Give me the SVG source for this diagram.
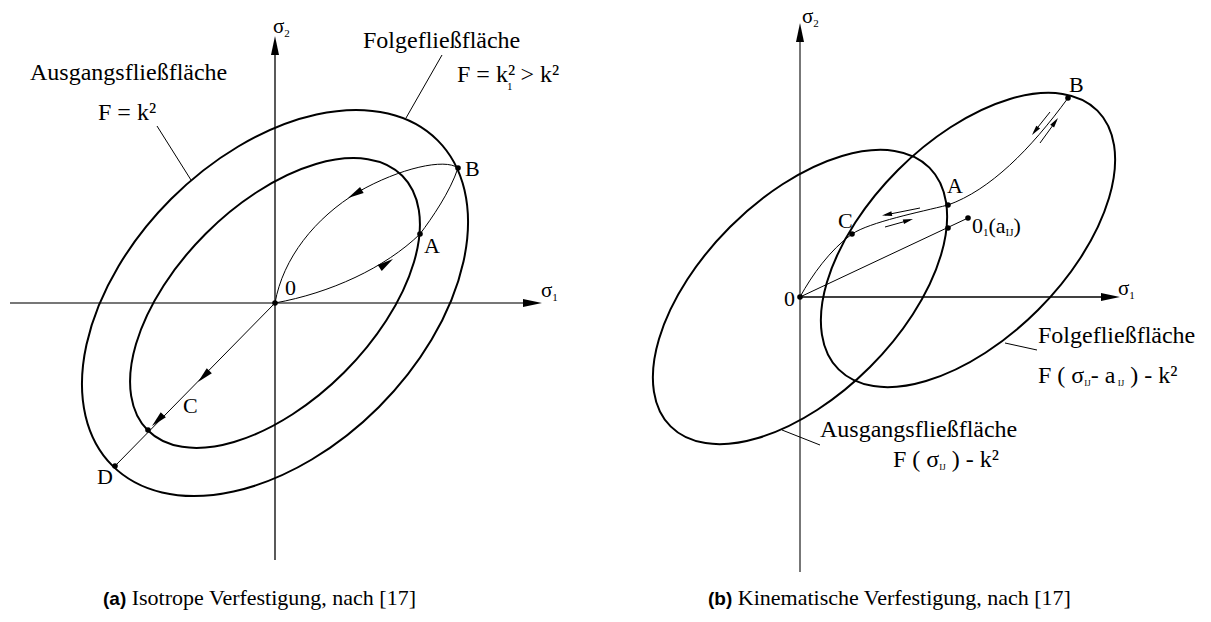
<svg xmlns="http://www.w3.org/2000/svg" width="1211" height="622" viewBox="0 0 1211 622">
<style>
.ell{fill:none;stroke:#000;stroke-width:2}
.pth{fill:none;stroke:#000;stroke-width:1}
.axk{stroke:#000;stroke-width:1.3;fill:none}
.axg{stroke:#777;stroke-width:2;fill:none}
.lbl{font-family:"Liberation Serif","Times New Roman",serif;font-size:24px;fill:#000}
.pt{font-family:"Liberation Serif","Times New Roman",serif;font-size:22px;fill:#000}
.sg{font-family:"Liberation Serif","Times New Roman",serif;font-size:21px;fill:#000}
.sub{font-size:11px}
.cap{font-family:"Liberation Serif","Times New Roman",serif;font-size:22px;fill:#000}
.capb{font-family:"Liberation Sans",Arial,sans-serif;font-size:19px;font-weight:bold}
.dot{fill:#000}
</style>
<defs>
<path id="axh" d="M0,0 L-19,-4 L-19,4 Z"/>
<path id="ah" d="M0,0 L-16,-3.6 L-16,3.6 Z"/>
<path id="sah" d="M0,0 L-10,-2.4 L-10,2.4 Z"/>
</defs>

<!-- ===== Left panel (a) ===== -->
<g id="axes-a">
  <line class="axg" x1="10" y1="303" x2="525" y2="303"/>
  <use href="#axh" transform="translate(542,303)"/>
  <line class="axk" x1="275" y1="560" x2="275" y2="52"/>
  <use href="#axh" transform="translate(275,36) rotate(-90)"/>
  <text class="sg" x="273" y="33">σ<tspan class="sub" dy="4">2</tspan></text>
  <text class="sg" x="541" y="297">σ<tspan class="sub" dy="4">1</tspan></text>
</g>
<g id="outer-a">
  <ellipse class="ell" cx="0" cy="0" rx="230" ry="147" transform="translate(275,303) rotate(-45)"/>
</g>
<g id="inner-a">
  <ellipse class="ell" cx="0" cy="0" rx="180" ry="98" transform="translate(275,303) rotate(-45)"/>
</g>
<g id="connectors-a">
  <path class="pth" d="M275,303 C330,293 385,268 420,234 C432,218 450,192 458,168"/>
  <path class="pth" d="M458,168 C445,158 400,168 358,192 C315,218 283,258 275,303"/>
  <line class="pth" x1="275" y1="303" x2="115" y2="466"/>
  <use href="#ah" transform="translate(393,259) rotate(-34)"/>
  <use href="#ah" transform="translate(348,198) rotate(150)"/>
  <use href="#ah" transform="translate(198,382) rotate(135)"/>
  <use href="#ah" transform="translate(152,426) rotate(135)"/>
  <line class="pth" x1="157" y1="126" x2="191" y2="180"/>
  <line class="pth" x1="442" y1="55" x2="406" y2="118"/>
</g>
<g id="pt-0a"><circle class="dot" cx="275" cy="303" r="2.8"/><text class="pt" x="285" y="295">0</text></g>
<g id="pt-Aa"><circle class="dot" cx="420" cy="234" r="2.8"/><text class="pt" x="424" y="253">A</text></g>
<g id="pt-Ba"><circle class="dot" cx="458" cy="168" r="2.8"/><text class="pt" x="465" y="176">B</text></g>
<g id="pt-Ca"><circle class="dot" cx="148" cy="430" r="2.8"/><text class="pt" x="183" y="413">C</text></g>
<g id="pt-Da"><circle class="dot" cx="115" cy="466" r="2.8"/><text class="pt" x="97" y="484">D</text></g>
<g id="label-ausgang-a">
  <text class="lbl" x="30" y="80">Ausgangsfließfläche</text>
  <text class="lbl" x="98" y="120">F = k²</text>
</g>
<g id="label-folge-a">
  <text class="lbl" x="363" y="48">Folgefließfläche</text>
  <text class="lbl" x="457" y="82">F = k²<tspan font-size="11" dx="-8" dy="8">1</tspan><tspan dx="2" dy="-8"> &gt; k²</tspan></text>
</g>
<g id="caption-a">
  <text class="cap" x="103" y="605"><tspan class="capb">(a)</tspan> Isotrope Verfestigung, nach [17]</text>
</g>

<!-- ===== Right panel (b) ===== -->
<g id="axes-b">
  <line class="axk" x1="800" y1="297" x2="1103" y2="297"/>
  <use href="#axh" transform="translate(1120,297)"/>
  <line class="axg" x1="800" y1="572" x2="800" y2="40"/>
  <use href="#axh" transform="translate(800,23) rotate(-90)"/>
  <text class="sg" x="802" y="23">σ<tspan class="sub" dy="4">2</tspan></text>
  <text class="sg" x="1118" y="295">σ<tspan class="sub" dy="4">1</tspan></text>
</g>
<g id="ausgang-b">
  <ellipse class="ell" cx="0" cy="0" rx="183" ry="99" transform="translate(800,297) rotate(-45)"/>
</g>
<g id="folge-b">
  <ellipse class="ell" cx="0" cy="0" rx="183" ry="99" transform="translate(968,240) rotate(-45)"/>
</g>
<g id="connectors-b">
  <path class="pth" d="M800,297 C812,275 830,250 852,234 C870,222 920,212 948,205 C990,190 1030,150 1068,98"/>
  <line class="pth" x1="800" y1="297" x2="968" y2="218"/>
  <line class="pth" x1="920" y1="208" x2="885" y2="215"/>
  <use href="#sah" transform="translate(882,215.5) rotate(169)"/>
  <line class="pth" x1="885" y1="227" x2="910" y2="220"/>
  <use href="#sah" transform="translate(913,219) rotate(-16)"/>
  <line class="pth" x1="1050" y1="112" x2="1034" y2="132"/>
  <use href="#sah" transform="translate(1032,135) rotate(128)"/>
  <line class="pth" x1="1040" y1="143" x2="1056" y2="121"/>
  <use href="#sah" transform="translate(1058,118) rotate(-54)"/>
  <line class="pth" x1="1005" y1="343" x2="1037" y2="350"/>
  <line class="pth" x1="782" y1="430" x2="820" y2="445"/>
</g>
<g id="pt-0b"><circle class="dot" cx="800" cy="297" r="2.8"/><text class="pt" x="784" y="306">0</text></g>
<g id="pt-Cb"><circle class="dot" cx="852" cy="234" r="2.8"/><text class="pt" x="838" y="228">C</text></g>
<g id="pt-Ab"><circle class="dot" cx="948" cy="205" r="2.8"/><circle class="dot" cx="948" cy="228" r="2.8"/><text class="pt" x="947" y="193">A</text></g>
<g id="pt-Bb"><circle class="dot" cx="1068" cy="98" r="2.8"/><text class="pt" x="1069" y="92">B</text></g>
<g id="pt-01b"><circle class="dot" cx="968" cy="218" r="2.8"/><text class="pt" x="972" y="233">0<tspan class="sub" dy="3">1</tspan><tspan dy="-3">(a</tspan><tspan class="sub" dy="3">IJ</tspan><tspan dy="-3">)</tspan></text></g>
<g id="label-folge-b">
  <text class="lbl" x="1038" y="343">Folgefließfläche</text>
  <text class="lbl" x="1038" y="383">F ( σ<tspan font-size="9" dy="3">IJ</tspan><tspan dy="-3">- a</tspan><tspan font-size="9" dy="3"> IJ</tspan><tspan dy="-3"> ) - k²</tspan></text>
</g>
<g id="label-ausgang-b">
  <text class="lbl" x="820" y="437">Ausgangsfließfläche</text>
  <text class="lbl" x="893" y="467">F ( σ<tspan font-size="9" dy="3">IJ</tspan><tspan dy="-3"> ) - k²</tspan></text>
</g>
<g id="caption-b">
  <text class="cap" x="708" y="605"><tspan class="capb">(b)</tspan> Kinematische Verfestigung, nach [17]</text>
</g>
</svg>
